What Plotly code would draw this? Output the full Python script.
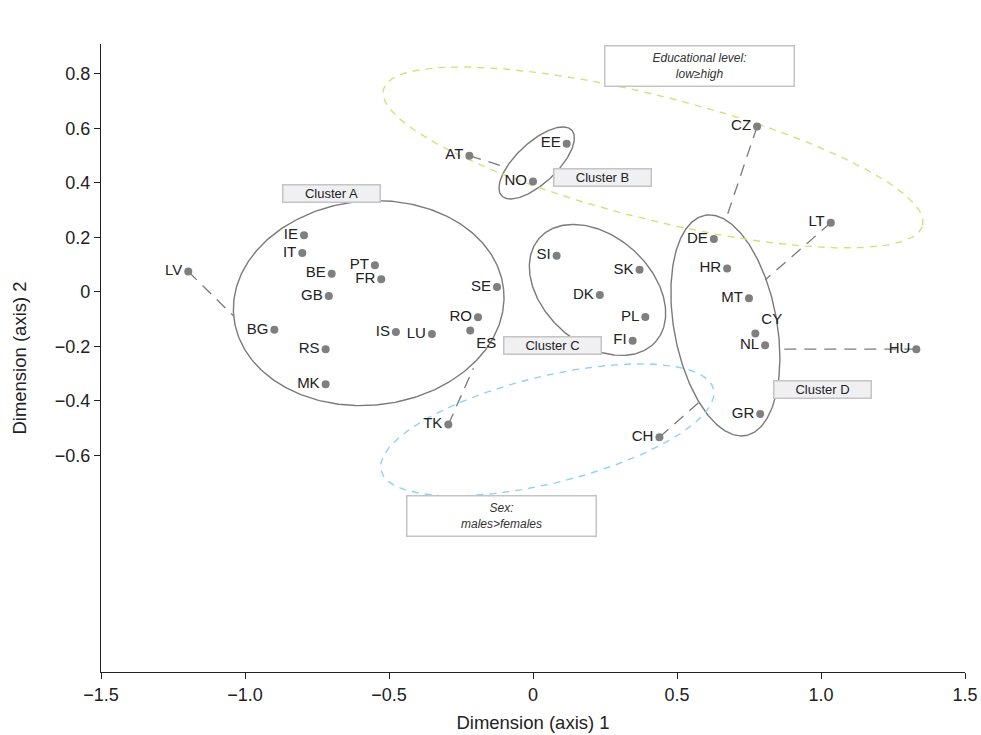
import numpy as np
import plotly.graph_objects as go

# ---------------- data ----------------
countries = ["LV", "IE", "IT", "BE", "GB", "PT", "FR", "BG", "RS", "MK", "IS", "LU",
             "SE", "RO", "ES", "TK", "AT", "EE", "NO", "SI", "SK", "DK", "PL", "FI",
             "CZ", "LT", "DE", "HR", "MT", "CY", "NL", "HU", "GR", "CH"]
dim1 = [-1.197, -0.795, -0.801, -0.699, -0.709, -0.549, -0.527, -0.898, -0.720, -0.720,
        -0.476, -0.351, -0.125, -0.191, -0.218, -0.294, -0.221, 0.117, 0.000, 0.082,
        0.370, 0.232, 0.390, 0.346, 0.778, 1.034, 0.628, 0.674, 0.750, 0.772,
        0.806, 1.331, 0.789, 0.439]
dim2 = [0.075, 0.208, 0.143, 0.067, -0.015, 0.098, 0.047, -0.139, -0.210, -0.339,
        -0.147, -0.154, 0.018, -0.093, -0.142, -0.487, 0.500, 0.544, 0.405, 0.133,
        0.081, -0.011, -0.092, -0.179, 0.607, 0.254, 0.194, 0.086, -0.023, -0.153,
        -0.196, -0.210, -0.448, -0.533]

# connectors: country -> end point
conn_from = ["LV", "TK", "AT", "CZ", "LT", "HU", "CH"]
conn_to_x = [-1.040, -0.207, -0.101, 0.667, 0.806, 0.858, 0.586]
conn_to_y = [-0.088, -0.280, 0.460, 0.258, 0.044, -0.210, -0.396]

# ellipses: name, centre (data), semi-axes (px), angle (deg), colour, dash
ell_names = ["A", "B", "C", "D", "Edu", "Sex"]
ell_cx = [-0.5705, 0.0128, 0.224, 0.668, 0.4167, 0.0497]
ell_cy = [-0.0411, 0.4734, 0.0073, -0.1229, 0.4936, -0.5064]
ell_a = [135.6, 48.0, 77.9, 112.0, 278.0, 171.1]
ell_b = [102.1, 20.4, 53.6, 51.4, 61.6, 53.4]
ell_ang = [5.7, 43.1, -41.8, 100.5, -14.15, 13.8]
ell_col = ["#7a7a7a", "#7a7a7a", "#7a7a7a", "#7a7a7a", "#d5e07c", "#8dd3f4"]
ell_dash = ["solid", "solid", "solid", "solid", "7px,6px", "7px,6px"]

# boxes
box_text = ["Cluster A", "Cluster B", "Cluster C", "Cluster D"]
box_x = [-0.698, 0.242, 0.069, 1.006]
box_y = [0.362, 0.419, -0.196, -0.357]
note_text = ["<i>Educational level:<br>low≥high</i>", "<i>Sex:<br>males>females</i>"]
note_x = [0.577, -0.111]
note_y = [0.830, -0.821]

xticks = [-1.5, -1.0, -0.5, 0, 0.5, 1.0, 1.5]
xtick_text = ["−1.5", "−1.0", "−0.5", "0", "0.5", "1.0", "1.5"]
yticks = [-0.6, -0.4, -0.2, 0, 0.2, 0.4, 0.6, 0.8]

# ---------------- layout geometry ----------------
W, H = 981, 735
ml, mr, mt, mb = 101, 16, 44, 63
xr = [-1.5, 1.5]
yr = [-1.395, 0.91]
sx = (W - ml - mr) / (xr[1] - xr[0])
sy = (H - mt - mb) / (yr[1] - yr[0])

FONT = "Liberation Sans, Arial, Helvetica"

fig = go.Figure()

# ellipses
t = np.linspace(0, 2 * np.pi, 300)
for i in range(len(ell_names)):
    th = np.deg2rad(ell_ang[i])
    px = ell_a[i] * np.cos(t) * np.cos(th) - ell_b[i] * np.sin(t) * np.sin(th)
    py = ell_a[i] * np.cos(t) * np.sin(th) + ell_b[i] * np.sin(t) * np.cos(th)
    fig.add_trace(go.Scatter(x=ell_cx[i] + px / sx, y=ell_cy[i] + py / sy, mode="lines",
                             line=dict(color=ell_col[i], width=1.4, dash=ell_dash[i]),
                             hoverinfo="skip", showlegend=False))

# connectors
for c, ex, ey in zip(conn_from, conn_to_x, conn_to_y):
    k = countries.index(c)
    fig.add_trace(go.Scatter(x=[dim1[k], ex], y=[dim2[k], ey], mode="lines",
                             line=dict(color="#7a7a7a", width=1.3, dash="12px,8px"),
                             hoverinfo="skip", showlegend=False))

# points
tpos = []
for c in countries:
    if c == "CY":
        tpos.append("top right")
    elif c == "ES":
        tpos.append("bottom right")
    else:
        tpos.append("middle left")
fig.add_trace(go.Scatter(x=dim1, y=dim2, mode="markers+text", text=countries,
                         textposition=tpos,
                         textfont=dict(family=FONT, size=15, color="#222222"),
                         marker=dict(color="#7f7f7f", size=8),
                         showlegend=False))

for txt, bx, by in zip(box_text, box_x, box_y):
    fig.add_annotation(x=bx, y=by, text=txt, showarrow=False, xanchor="center", yanchor="middle",
                       width=96, height=16, borderpad=0, bgcolor="#f0f0f3",
                       bordercolor="#c4c4c4", borderwidth=1.5,
                       font=dict(family=FONT, size=13, color="#222222"))
for txt, bx, by in zip(note_text, note_x, note_y):
    fig.add_annotation(x=bx, y=by, text=txt, showarrow=False, xanchor="center", yanchor="middle",
                       width=188, height=39, borderpad=0, bgcolor="#ffffff",
                       bordercolor="#c4c4c4", borderwidth=1.5,
                       font=dict(family=FONT, size=12, color="#333333"))

fig.update_layout(
    width=W, height=H,
    margin=dict(l=ml, r=mr, t=mt, b=mb, autoexpand=False),
    plot_bgcolor="white", paper_bgcolor="white",
    font=dict(family=FONT, size=18, color="#222222"),
    xaxis=dict(range=xr, tickvals=xticks, ticktext=xtick_text, showgrid=False, zeroline=False,
               showline=True, linecolor="#222222", linewidth=1.3, ticks="outside", ticklen=6,
               tickcolor="#222222", automargin=False,
               title=dict(text="Dimension (axis) 1", standoff=12, font=dict(size=18.5)),
               tickfont=dict(size=18)),
    yaxis=dict(range=yr, tickvals=yticks, showgrid=False, zeroline=False,
               showline=True, linecolor="#222222", linewidth=1.3, ticks="outside", ticklen=6,
               tickcolor="#222222", automargin=False,
               title=dict(text="Dimension (axis) 2", standoff=23, font=dict(size=18.5)),
               tickfont=dict(size=18)),
)

fig.write_html("out.html", config={"displayModeBar": False},
               post_script="document.body.style.margin='0';document.body.style.overflow='hidden';")
